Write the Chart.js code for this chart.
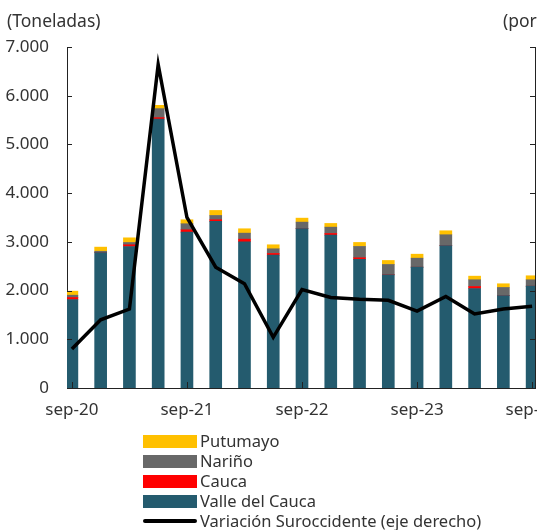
<!DOCTYPE html>
<html><head><meta charset="utf-8">
<script src="https://cdn.jsdelivr.net/npm/chart.js@4"></script>
<style>
html,body{margin:0;padding:0;background:#fff;overflow:hidden;width:537px;height:530px}
#wrap{position:relative;width:600px;height:530px;font-family:"Noto Sans",sans-serif;color:#333}
canvas{position:absolute;left:0;top:0}
.ax{position:absolute;font-size:17.5px;top:8px;white-space:nowrap;line-height:24px}
#legend{position:absolute;left:143px;top:431px;font-size:16.5px;line-height:20px}
.row{display:flex;align-items:center;height:20px;white-space:nowrap}
.sw{width:54px;height:13px;margin-right:3px;flex:none}
.ln{width:54px;height:4px;margin-right:3px;flex:none;border-radius:2px}
</style></head>
<body>
<div id="wrap">
<canvas id="c" width="600" height="530"></canvas>
<div class="ax" style="left:7px">(Toneladas)</div>
<div class="ax" style="left:503px">(porcentaje)</div>
<div id="legend"></div>
</div>
<script>
const categories = ['sep-20','dic-20','mar-21','jun-21','sep-21','dic-21','mar-22','jun-22','sep-22','dic-22','mar-23','jun-23','sep-23','dic-23','mar-24','jun-24','sep-24'];
const valleDelCauca = [1817,2782,2905,5520,3199,3419,3002,2727,3275,3138,2639,2324,2480,2926,2043,1899,2090];
const cauca = [41,0,35,30,49,35,53,35,0,34,34,0,0,0,41,0,0];
const narino = [47,25,47,185,124,88,124,96,130,130,233,212,185,220,138,165,132];
const putumayo = [83,85,96,68,82,103,90,82,82,76,82,82,82,82,74,76,82];
const variacion = [-60,-30,-19,232,75,24,7,-48,1,-7,-9,-10,-21,-6,-24,-19,-16];
const labelEvery = 4;

const pts = arr => arr.map((v,i)=>({x:i,y:v}));
const fmt = v => String(v).replace(/\B(?=(\d{3})+(?!\d))/g,'.');
const FONT = {family:'"Noto Sans", sans-serif', size:17};
const TXT = '#333';

const inwardTicks = {
  id:'inwardTicks',
  afterDraw(chart){
    const {ctx, chartArea:a, scales} = chart;
    ctx.save();
    ctx.strokeStyle = '#222'; ctx.lineWidth = 1;
    ctx.beginPath();
    scales.y.ticks.forEach(t=>{const p=Math.round(scales.y.getPixelForValue(t.value))+0.5; ctx.moveTo(a.left,p); ctx.lineTo(a.left+5,p);});
    scales.y1.ticks.forEach(t=>{const p=Math.round(scales.y1.getPixelForValue(t.value))+0.5; ctx.moveTo(a.right-5,p); ctx.lineTo(a.right,p);});
    scales.x.ticks.forEach(t=>{const p=Math.round(scales.x.getPixelForValue(t.value))+0.5; ctx.moveTo(p,a.bottom-6); ctx.lineTo(p,a.bottom);});
    ctx.stroke();
    ctx.restore();
  }
};

const chart = new Chart(document.getElementById('c'), {
  data:{
    datasets:[
      {type:'line', label:'Variación Suroccidente (eje derecho)', data:pts(variacion), yAxisID:'y1',
       borderColor:'#000', backgroundColor:'#000', borderWidth:3.5, pointRadius:0, tension:0},
      {type:'bar', label:'Valle del Cauca', data:pts(valleDelCauca), yAxisID:'y', backgroundColor:'#245B6E', barThickness:12},
      {type:'bar', label:'Cauca', data:pts(cauca), yAxisID:'y', backgroundColor:'#FF0000', barThickness:12},
      {type:'bar', label:'Nariño', data:pts(narino), yAxisID:'y', backgroundColor:'#686868', barThickness:12},
      {type:'bar', label:'Putumayo', data:pts(putumayo), yAxisID:'y', backgroundColor:'#FFC000', barThickness:12}
    ]
  },
  options:{
    responsive:false, animation:false,
    layout:{padding:{top:47, bottom:102, left:0, right:0}},
    plugins:{legend:{display:false}, tooltip:{enabled:false}},
    scales:{
      x:{type:'linear', stacked:true, min:-0.17, max:16.1, offset:false, bounds:'data',
         afterBuildTicks:s=>{s.ticks = categories.map((c,i)=>i).filter(i=>i%labelEvery===0).map(v=>({value:v}));},
         afterFit:s=>{s.height=40; s.paddingLeft=0; s.paddingRight=0;},
         grid:{display:false, offset:false}, border:{display:true,color:'#222',width:1},
         ticks:{callback:v=>categories[v], color:TXT, font:FONT, padding:4, maxRotation:0, autoSkip:false}},
      y:{stacked:true, min:0, max:7000, position:'left',
         afterFit:s=>{s.width=67;},
         grid:{display:false}, border:{display:true,color:'#222',width:1},
         ticks:{stepSize:1000, callback:v=>fmt(v), color:TXT, font:FONT, padding:10}},
      y1:{stacked:false, min:-100, max:250, position:'right',
         afterFit:s=>{s.width=65;},
         grid:{display:false}, border:{display:true,color:'#222',width:1},
         ticks:{stepSize:50, color:TXT, font:FONT, padding:10}}
    }
  },
  plugins:[inwardTicks]
});

const lg = document.getElementById('legend');
chart.data.datasets.slice(1).reverse().concat([chart.data.datasets[0]]).forEach(ds=>{
  const r = document.createElement('div'); r.className='row';
  const s = document.createElement('span');
  if (ds.type==='line'){ s.className='ln'; s.style.background=ds.borderColor; }
  else { s.className='sw'; s.style.background=ds.backgroundColor; }
  const t = document.createElement('span'); t.textContent = ds.label;
  r.appendChild(s); r.appendChild(t); lg.appendChild(r);
});
</script>
</body></html>
